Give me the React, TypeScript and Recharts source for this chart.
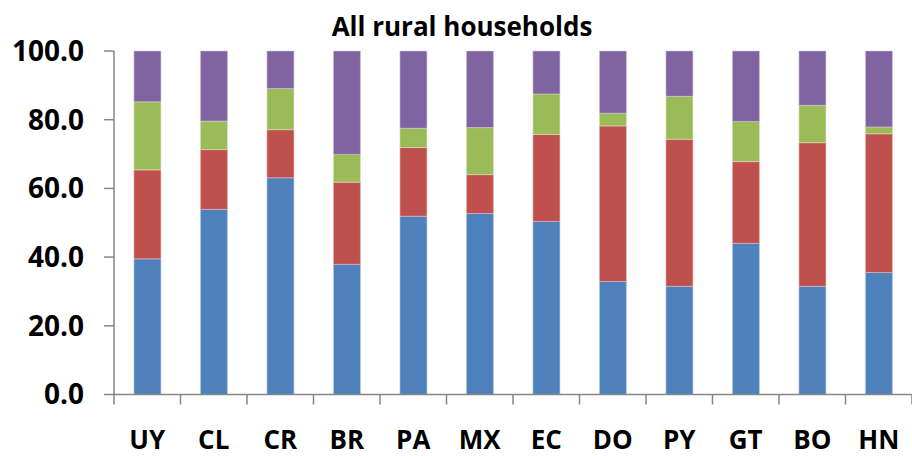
import React from 'react';
import { BarChart, Bar, XAxis, YAxis } from 'recharts';

const countries = ['UY', 'CL', 'CR', 'BR', 'PA', 'MX', 'EC', 'DO', 'PY', 'GT', 'BO', 'HN'];
// segment sizes (stacked to 100)
const blue = [39.5, 53.9, 63.1, 37.9, 51.9, 52.7, 50.4, 32.9, 31.5, 44.0, 31.5, 35.5];
const red = [25.9, 17.4, 14.0, 23.9, 20.0, 11.3, 25.3, 45.3, 42.8, 23.8, 41.8, 40.4];
const green = [19.8, 8.3, 12.0, 8.1, 5.6, 13.7, 11.8, 3.7, 12.5, 11.7, 10.9, 2.0];
const purple = [14.8, 20.4, 10.9, 30.1, 22.5, 22.3, 12.5, 18.1, 13.2, 20.5, 15.8, 22.1];
const yTicks = [0, 20, 40, 60, 80, 100];

const data = countries.map((c, i) => ({
  name: c,
  blue: blue[i],
  red: red[i],
  green: green[i],
  purple: purple[i],
}));

const FONT = '"Open Sans", sans-serif';
const AXIS = '#868686';

const CountryTick = (props: any) => {
  const { x, y, payload, index, visibleTicksCount } = props;
  const half = payload.offset || 0;
  const isLast = index === visibleTicksCount - 1;
  return (
    <g>
      <line x1={x - half} x2={x - half} y1={y - 8} y2={y + 2} stroke={AXIS} strokeWidth={1.5} />
      {isLast && <line x1={x + half} x2={x + half} y1={y - 8} y2={y + 2} stroke={AXIS} strokeWidth={1.5} />}
      <text x={x} y={y + 46} textAnchor="middle" fontFamily={FONT} fontWeight={700} fontSize={26} fill="#000">
        {payload.value}
      </text>
    </g>
  );
};

const App: React.FC = () => {
  return (
    <div style={{ position: 'absolute', left: 0, top: 0, width: 912, height: 456, background: '#fff' }}>
      <div
        style={{
          position: 'absolute',
          left: 0,
          top: 11,
          width: 924,
          textAlign: 'center',
          fontFamily: FONT,
          fontWeight: 700,
          fontSize: 26,
          lineHeight: '30px',
        }}
      >
        All rural households
      </div>
      <BarChart
        width={912}
        height={456}
        data={data}
        margin={{ top: 51, right: 0, left: 0, bottom: 0 }}
        barCategoryGap="30%"
      >
        <XAxis
          dataKey="name"
          height={61.5}
          axisLine={{ stroke: AXIS, strokeWidth: 1.5 }}
          tickLine={false}
          tick={<CountryTick />}
          interval={0}
        />
        <YAxis
          width={114}
          domain={[0, 100]}
          ticks={yTicks}
          tickFormatter={(v: number) => v.toFixed(1)}
          axisLine={{ stroke: AXIS, strokeWidth: 1.5 }}
          tickLine={{ stroke: AXIS, strokeWidth: 1.5 }}
          tickSize={10}
          tickMargin={20}
          tick={{ fontFamily: FONT, fontWeight: 700, fontSize: 28, fill: '#000' }}
        />
        <Bar dataKey="blue" stackId="a" fill="#4F81BD" stroke="#b9cde5" strokeWidth={0.6} isAnimationActive={false} />
        <Bar dataKey="red" stackId="a" fill="#C0504D" stroke="#e6b9b8" strokeWidth={0.6} isAnimationActive={false} />
        <Bar dataKey="green" stackId="a" fill="#9BBB59" stroke="#d7e4bd" strokeWidth={0.6} isAnimationActive={false} />
        <Bar dataKey="purple" stackId="a" fill="#8064A2" stroke="#ccc1da" strokeWidth={0.6} isAnimationActive={false} />
      </BarChart>
    </div>
  );
};

export default App;
